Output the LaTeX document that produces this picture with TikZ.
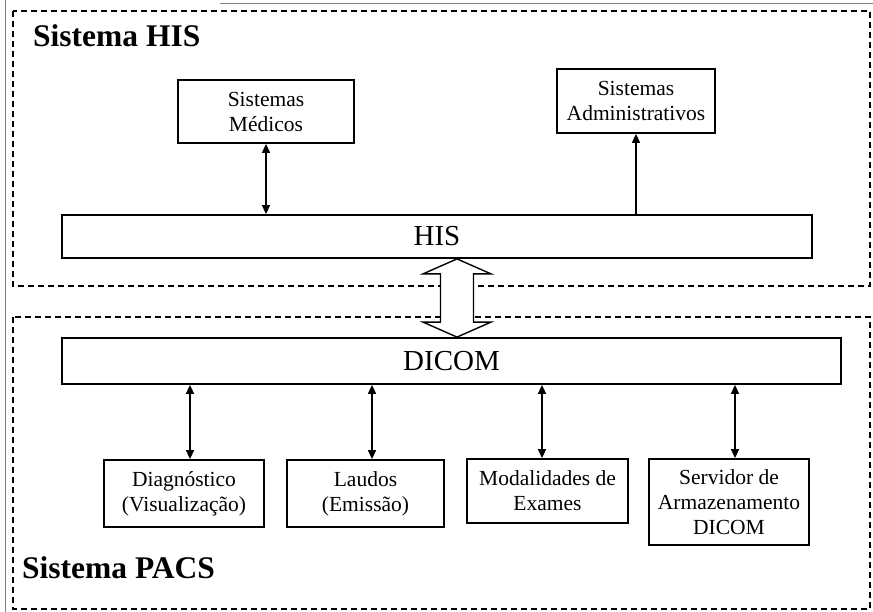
\documentclass[tikz,border=0pt]{standalone}
\usepackage{fontspec}
\setmainfont{Liberation Serif}
\usetikzlibrary{arrows.meta,positioning,calc}

\begin{document}
\begin{tikzpicture}[
x=1pt, y=-1pt, >={Triangle[length=9pt,width=8pt]},
sys-box/.style = {draw=black, line width=1.8pt, align=center, inner sep=2pt,
  font=\fontsize{21.5}{25}\selectfont},
bar-box/.style = {draw=black, line width=1.8pt, font=\fontsize{29}{32}\selectfont},
zone/.style = {draw=black, line width=2pt, dash pattern=on 6pt off 4pt},
zone-title/.style = {anchor=base west, inner sep=0pt, font=\fontsize{31.5}{36}\selectfont\bfseries},
link/.style = {line width=1.6pt}
]
\useasboundingbox (0,0) rectangle (873,612);

% frame and zones
\draw[gray, line width=1pt] (5,0) -- (5,612);
\draw[gray, line width=1pt] (220,4) -- (873,4);
\draw[zone] (13,11) rectangle (870,286);
\draw[zone] (13,317) rectangle (870,609);
\node[zone-title] (his-title) at (33,47) {Sistema HIS};
\node[zone-title] (pacs-title) at (22,578) {Sistema PACS};

% HIS side
\node [sys-box, minimum width=176pt, minimum height=63pt] (medicos) at (266,111.5) {Sistemas\\Médicos};
\node [sys-box, minimum width=158pt, minimum height=64pt] (admin) at (636,101) {Sistemas\\Administrativos};
\node [bar-box, minimum width=750pt, minimum height=43pt] (his) at (437,236.5) {HIS};

% PACS side
\node [bar-box, minimum width=779pt, minimum height=46pt] (dicom) at (451.5,361) {DICOM};
\node [sys-box, minimum width=160pt, minimum height=67pt] (diag) at (184,493.5) {Diagnóstico\\(Visualização)};
\node [sys-box, minimum width=157pt, minimum height=67pt] (laudos) at (365.5,493.5) {Laudos\\(Emissão)};
\node [sys-box, minimum width=161pt, minimum height=64pt] (modal) at (547.5,491) {Modalidades de\\Exames};
\node [sys-box, minimum width=160pt, minimum height=86pt] (servidor) at (729,502) {Servidor de\\Armazenamento\\DICOM};

% arrows
\draw[link, <->] (medicos.south) -- (medicos.south |- his.north);
\draw[link, ->] (admin.south |- his.north) -- (admin.south);
\draw[link, <->] ([xshift=6pt]diag.north |- dicom.south) -- ([xshift=6pt]diag.north);
\draw[link, <->] ([xshift=6.5pt]laudos.north |- dicom.south) -- ([xshift=6.5pt]laudos.north);
\draw[link, <->] ([xshift=-5.5pt]modal.north |- dicom.south) -- ([xshift=-5.5pt]modal.north);
\draw[link, <->] ([xshift=6pt]servidor.north |- dicom.south) -- ([xshift=6pt]servidor.north);

% hollow link HIS <-> DICOM
\coordinate (up) at (his.south -| 457,0);
\coordinate (down) at (dicom.north -| 457,0);
\draw[line width=1.4pt, fill=white] (up) -- ($(up)+(-34,15)$) -- ($(up)+(-16.5,15)$)
  -- ($(down)+(-16.5,-15)$) -- ($(down)+(-34,-15)$) -- (down)
  -- ($(down)+(34,-15)$) -- ($(down)+(16.5,-15)$)
  -- ($(up)+(16.5,15)$) -- ($(up)+(34,15)$) -- cycle;
\end{tikzpicture}
\end{document}
